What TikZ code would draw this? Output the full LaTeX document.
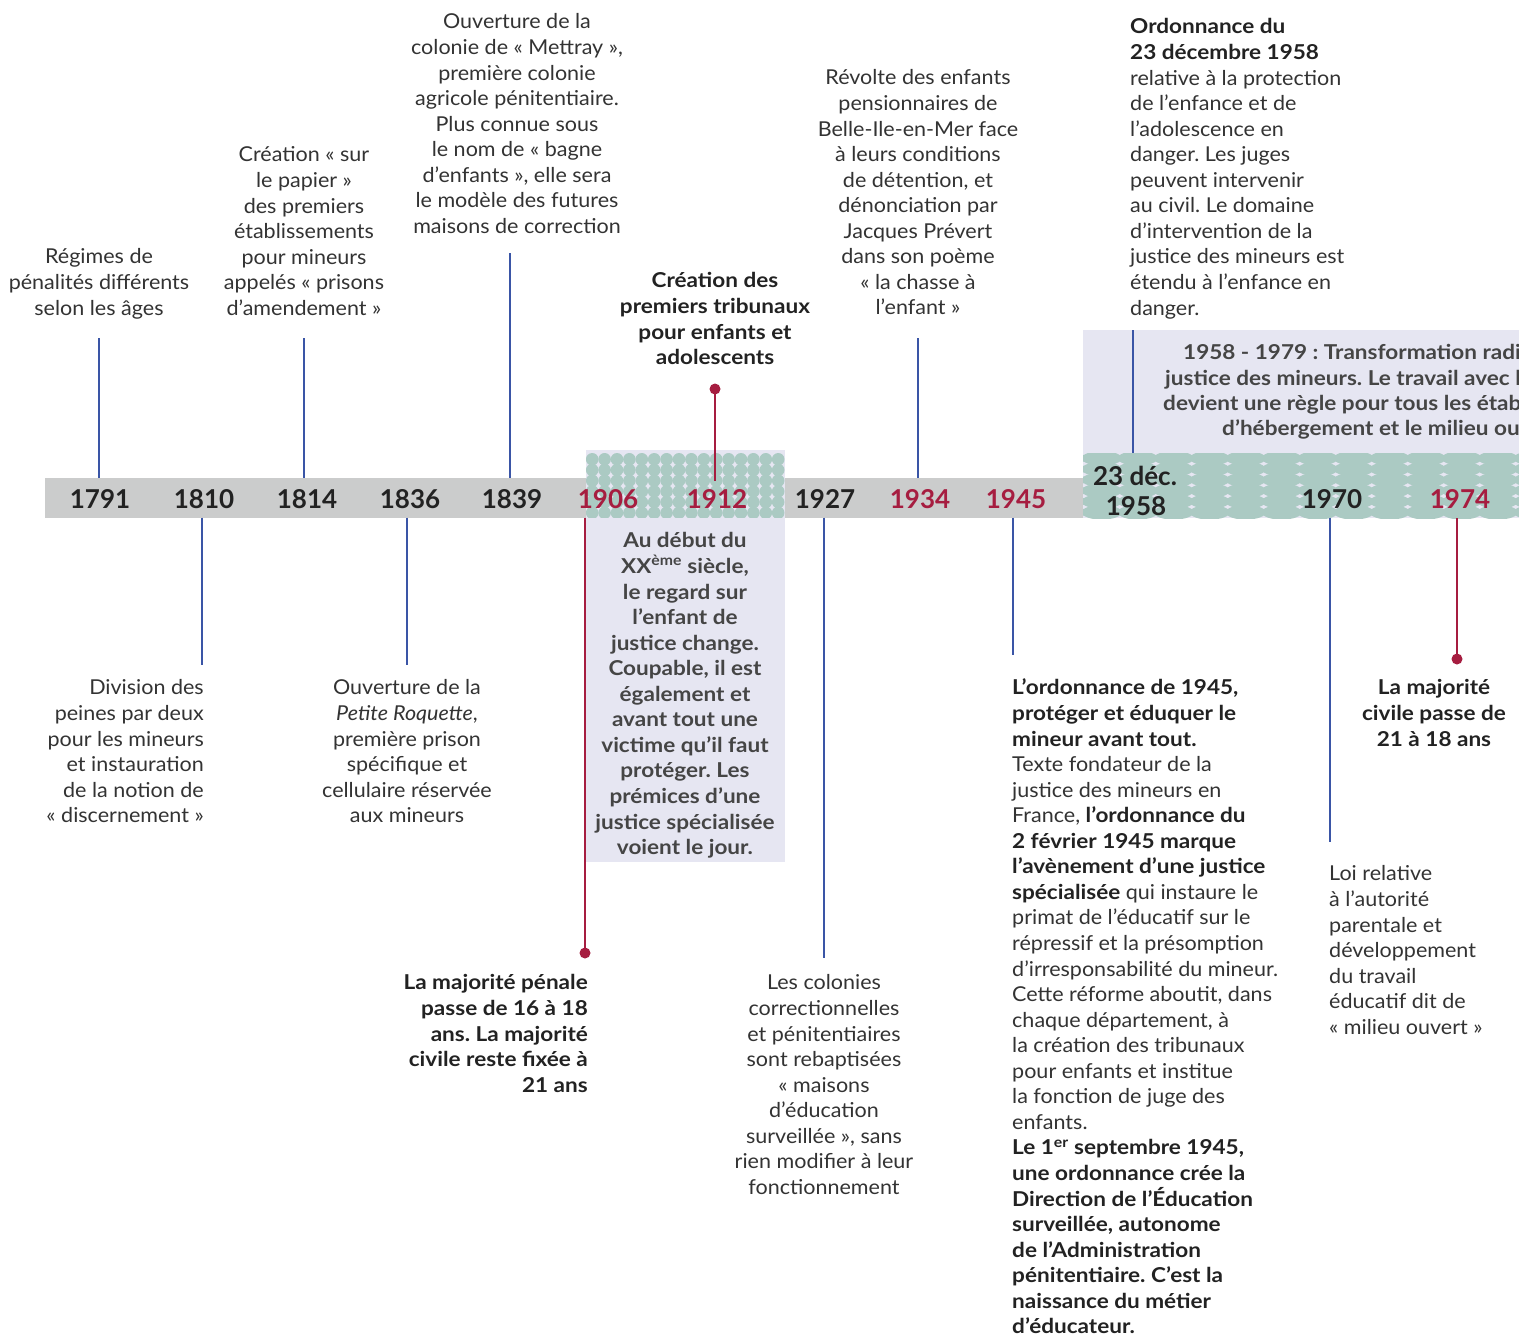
\documentclass[tikz,border=0pt]{standalone}
\usepackage{fontspec}
\setmainfont{Lato}[FakeStretch=1.05]
\newfontfamily\hvy{Lato}[FakeStretch=1.1]
\newfontfamily\yrf{Lato}
\frenchspacing
\definecolor{tblue}{HTML}{3A55A6}
\definecolor{tred}{HTML}{A61D40}
\definecolor{tband}{HTML}{CBCCCC}
\definecolor{tlav}{HTML}{E6E6F2}
\definecolor{tteal}{HTML}{ABCAC3}
\definecolor{ttext}{HTML}{333333}
\definecolor{tdark}{HTML}{222222}
\definecolor{tboxtext}{HTML}{454545}
\newcommand{\fl}{\rule{0pt}{18pt}}
\newcommand{\B}[1]{{\hvy\bfseries\color{tdark}#1}}
\tikzset{
  txt/.style={inner sep=0pt, text=ttext, font=\fontsize{20.5}{25.56}\selectfont},
  txtb/.style={inner sep=0pt, text=tdark, font=\fontsize{20.5}{25.56}\selectfont\hvy\bfseries},
  boxt/.style={inner sep=0pt, text=tboxtext, font=\fontsize{20.5}{25.56}\selectfont\hvy\bfseries},
  year/.style={inner sep=0pt, font=\fontsize{26}{30}\selectfont\yrf\bfseries, text=tdark, anchor=base},
  ryear/.style={year, text=tred},
  bline/.style={draw=tblue, line width=2.7pt},
  rline/.style={draw=tred, line width=2.7pt},
  rdot/.style={fill=tred},
}
\begin{document}
\begin{tikzpicture}[x=1pt,y=-1pt]
\useasboundingbox (0,0) rectangle (1519,1334);
\fill[white] (0,0) rectangle (1519,1334);
% band
\fill[tband] (45,477.5) rectangle (1083,517.5);
% box 1
\fill[tlav] (586,450) rectangle (785,862);
\begin{scope}
\clip (586,453) rectangle (785,517);
\foreach \i in {0,...,15}{\foreach \j in {0,...,5}{
  \fill[tteal] ({592.2+12.4*\i},{459.3+10.7*\j}) circle[radius=6.3pt];}}
\end{scope}
% box 2
\fill[tlav] (1083,330) rectangle (1530,518);
\begin{scope}
\clip (1083,453.5) rectangle (1530,518);
\foreach \i in {-1,...,12}{\foreach \j in {0,...,5}{
  \fill[tteal] ({1101.7+36*\i},{458.3+10.8*\j}) ellipse[x radius=20pt, y radius=7.3pt];}}
\end{scope}

% years
\node[year] (y1791) at (100,508) {1791};
\node[year] (y1810) at (204,508) {1810};
\node[year] (y1814) at (307,508) {1814};
\node[year] (y1836) at (410,508) {1836};
\node[year] (y1839) at (512,508) {1839};
\node[ryear] (y1906) at (608,508) {1906};
\node[ryear] (y1912) at (717,508) {1912};
\node[year] (y1927) at (825,508) {1927};
\node[ryear] (y1934) at (920,508) {1934};
\node[ryear] (y1945) at (1016,508) {1945};
\node[year] (y1958a) at (1135,485) {23 déc.};
\node[year] (y1958b) at (1136,515) {1958};
\node[year] (y1970) at (1332,508) {1970};
\node[ryear] (y1974) at (1460,508) {1974};

% connector coordinates
\coordinate (a1791) at (99,338);   \coordinate (b1791) at (99,477.5);
\coordinate (a1810) at (202,517.5); \coordinate (b1810) at (202,665);
\coordinate (a1814) at (304,338);  \coordinate (b1814) at (304,477.5);
\coordinate (a1836) at (407,517.5); \coordinate (b1836) at (407,665);
\coordinate (a1839) at (510,253);  \coordinate (b1839) at (510,477.5);
\coordinate (a1906) at (585,517.5); \coordinate (b1906) at (585,953);
\coordinate (a1912) at (715,389);  \coordinate (b1912) at (715,481);
\coordinate (a1927) at (824,517.5); \coordinate (b1927) at (824,958);
\coordinate (a1934) at (918,338);  \coordinate (b1934) at (918,477.5);
\coordinate (a1945) at (1013,517.5); \coordinate (b1945) at (1013,655);
\coordinate (a1958) at (1133,330); \coordinate (b1958) at (1133,453);
\coordinate (a1970) at (1330,518); \coordinate (b1970) at (1330,842);
\coordinate (a1974) at (1457,518); \coordinate (b1974) at (1457,659);

\draw[bline] (a1791) -- (b1791);
\draw[bline] (a1810) -- (b1810);
\draw[bline] (a1814) -- (b1814);
\draw[bline] (a1836) -- (b1836);
\draw[bline] (a1839) -- (b1839);
\draw[rline] (a1906) -- (b1906);
\draw[rline] (a1912) -- (b1912);
\draw[bline] (a1927) -- (b1927);
\draw[bline] (a1934) -- (b1934);
\draw[bline] (a1945) -- (b1945);
\draw[bline] (a1958) -- (b1958);
\draw[bline] (a1970) -- (b1970);
\draw[rline] (a1974) -- (b1974);
\fill[rdot] (b1906) circle[radius=5.5pt];
\fill[rdot] (a1912) circle[radius=5.5pt];
\fill[rdot] (b1974) circle[radius=5.5pt];

% texts above
\node[txt, anchor=north, align=center] (t1791) at (99,245.7)
 {\fl Régimes de\\pénalités différents\\selon les âges};
\node[txt, anchor=north, align=center] (t1814) at (304,143.7)
 {\fl Création « sur\\le papier »\\des premiers\\établissements\\pour mineurs\\appelés « prisons\\d’amendement »};
\node[txt, anchor=north, align=center] (t1839) at (517,10.7)
 {\fl Ouverture de la\\colonie de « Mettray »,\\première colonie\\agricole pénitentiaire.\\Plus connue sous\\le nom de « bagne\\d’enfants », elle sera\\le modèle des futures\\maisons de correction};
\node[txtb, anchor=north, align=center] (t1912) at (715,269.7)
 {\fl Création des\\premiers tribunaux\\pour enfants et\\adolescents};
\node[txt, anchor=north, align=center] (t1934) at (918,66.7)
 {\fl Révolte des enfants\\pensionnaires de\\Belle-Ile-en-Mer face\\à leurs conditions\\de détention, et\\dénonciation par\\Jacques Prévert\\dans son poème\\« la chasse à\\l’enfant »};
\node[txt, anchor=north west, align=left] (t1958) at (1130,15.7)
 {\fl\B{Ordonnance du}\\\B{23 décembre 1958}\\relative à la protection\\de l’enfance et de\\l’adolescence en\\danger. Les juges\\peuvent intervenir\\au civil. Le domaine\\d’intervention de la\\justice des mineurs est\\étendu à l’enfance en\\danger.};

% box 2 text
\node[boxt, anchor=base west] (bx1) at (1183,359) {1958 - 1979 : Transformation radicale de la};
\node[boxt, anchor=base west] (bx2) at (1165,385) {justice des mineurs. Le travail avec les familles};
\node[boxt, anchor=base west] (bx3) at (1163,410) {devient une règle pour tous les établissements};
\node[boxt, anchor=base west] (bx4) at (1222,435) {d’hébergement et le milieu ouvert};

% box 1 text
\node[boxt, anchor=north, align=center] (bxa) at (685,529.7)
 {\fl Au début du\\XX\textsuperscript{ème} siècle,\\le regard sur\\l’enfant de\\justice change.\\Coupable, il est\\également et\\avant tout une\\victime qu’il faut\\protéger. Les\\prémices d’une\\justice spécialisée\\voient le jour.};

% texts below
\node[txt, anchor=north east, align=right] (t1810) at (204,676.7)
 {\fl Division des\\peines par deux\\pour les mineurs\\et instauration\\de la notion de\\« discernement »};
\node[txt, anchor=north, align=center] (t1836) at (407,676.7)
 {\fl Ouverture de la\\\textit{Petite Roquette},\\première prison\\spécifique et\\cellulaire réservée\\aux mineurs};
\node[txtb, anchor=north east, align=right] (t1906) at (588,971.7)
 {\fl La majorité pénale\\passe de 16 à 18\\ans. La majorité\\civile reste fixée à\\21 ans};
\node[txt, anchor=north, align=center] (t1927) at (824,971.7)
 {\fl Les colonies\\correctionnelles\\et pénitentiaires\\sont rebaptisées\\« maisons\\d’éducation\\surveillée », sans\\rien modifier à leur\\fonctionnement};
\node[txt, anchor=north west, align=left] (t1945) at (1012,676.7)
 {\fl\B{L’ordonnance de 1945,}\\\B{protéger et éduquer le}\\\B{mineur avant tout.}\\Texte fondateur de la\\justice des mineurs en\\France, \B{l’ordonnance du}\\\B{2 février 1945 marque}\\\B{l’avènement d’une justice}\\\B{spécialisée} qui instaure le\\primat de l’éducatif sur le\\répressif et la présomption\\d’irresponsabilité du mineur.\\Cette réforme aboutit, dans\\chaque département, à\\la création des tribunaux\\pour enfants et institue\\la fonction de juge des\\enfants.\\\B{Le 1\textsuperscript{er} septembre 1945,}\\\B{une ordonnance crée la}\\\B{Direction de l’Éducation}\\\B{surveillée, autonome}\\\B{de l’Administration}\\\B{pénitentiaire. C’est la}\\\B{naissance du métier}\\\B{d’éducateur.}};
\node[txtb, anchor=north, align=center] (t1974) at (1434,676.7)
 {\fl La majorité\\civile passe de\\21 à 18 ans};
\node[txt, anchor=north west, align=left] (t1970) at (1329,862.7)
 {\fl Loi relative\\à l’autorité\\parentale et\\développement\\du travail\\éducatif dit de\\« milieu ouvert »};
\end{tikzpicture}
\end{document}
